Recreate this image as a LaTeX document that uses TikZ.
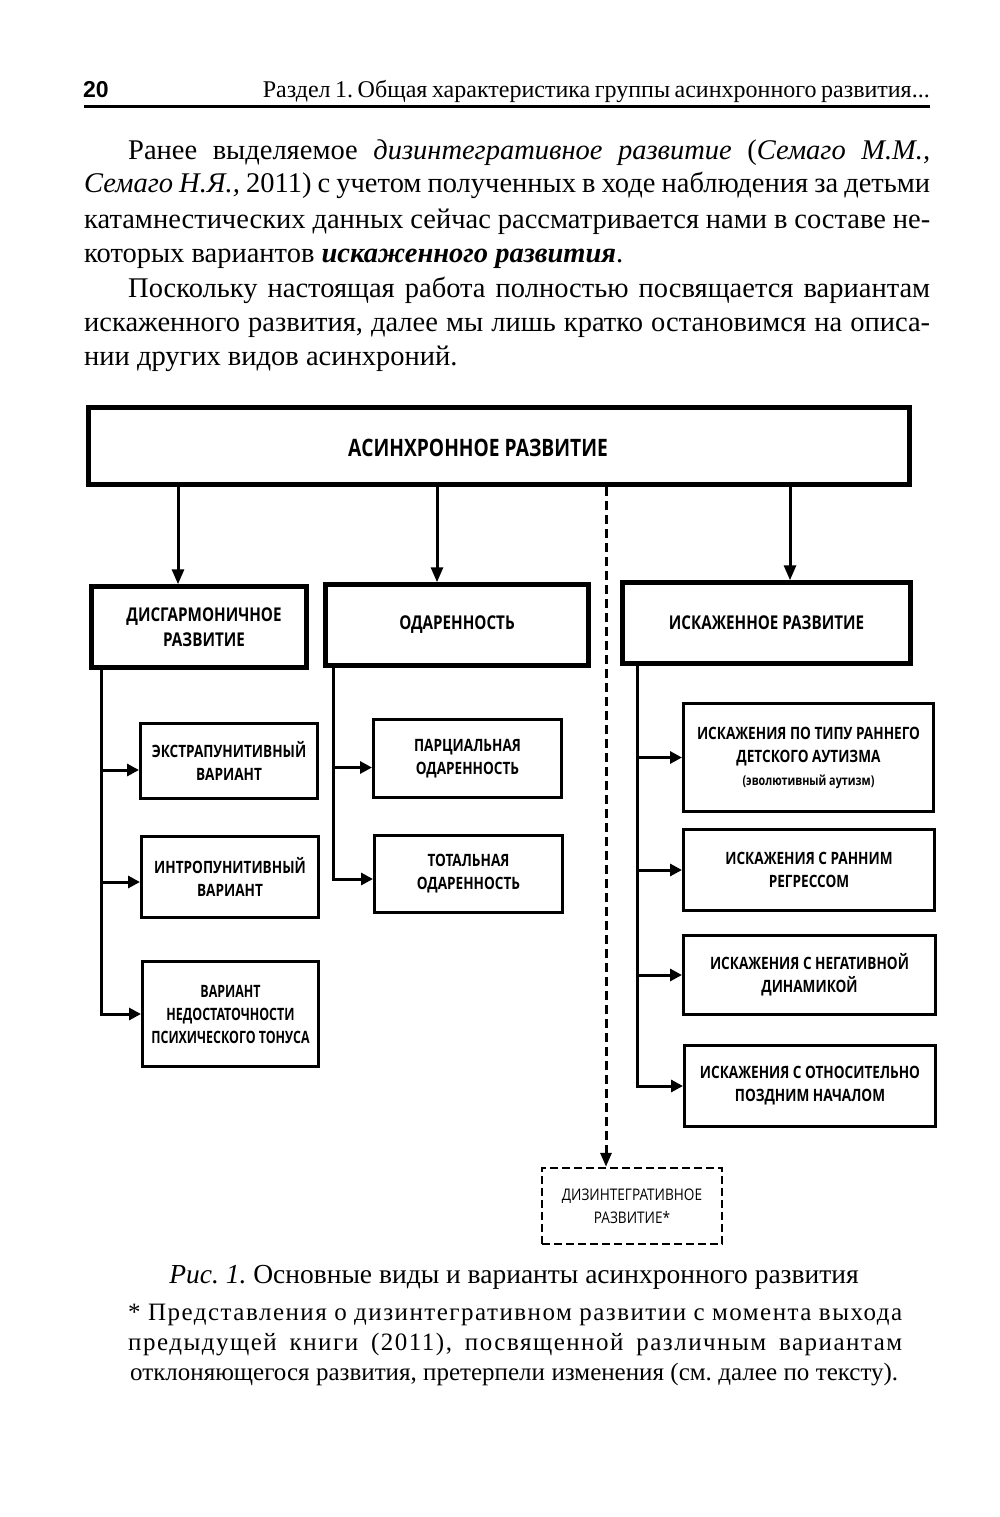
\documentclass[tikz,border=0pt]{standalone}
\usepackage{fontspec}
\setmainfont{Liberation Serif}
\newfontfamily\footfont[LetterSpace=6]{Liberation Serif}
\newfontfamily\boxfont[FakeStretch=0.8]{Open Sans}
\newfontfamily\boxfontc[FakeStretch=0.73]{Open Sans}
\newfontfamily\boxlight[FakeStretch=0.85]{Open Sans}
\newfontfamily\numfont{Liberation Sans}
\usetikzlibrary{arrows.meta}
\frenchspacing
\tikzset{
  lvlone/.style={draw, line width=5pt, inner sep=0pt},
  toptext/.style={inner sep=0pt, font=\boxfont\bfseries\fontsize{24}{28}\selectfont},
  lvltwo/.style={draw, line width=4.5pt, inner sep=0pt, align=center,
    font=\boxfont\bfseries\fontsize{19}{25}\selectfont},
  subbox/.style={draw, line width=3pt, inner sep=0pt, align=center,
    font=\boxfont\bfseries\fontsize{17}{23}\selectfont},
  dashbox/.style={draw, line width=2.5pt, dash pattern=on 8pt off 4pt, inner sep=0pt, align=center,
    font=\boxlight\fontsize{16}{23}\selectfont},
  conn/.style={line width=3pt},
  downarr/.style={line width=3pt, -{Triangle[length=15pt,width=12pt]}},
  sidearr/.style={line width=3pt, -{Triangle[length=12pt,width=12pt]}},
  dasharr/.style={line width=3pt, dash pattern=on 9pt off 5pt, -{Triangle[length=14pt,width=11pt]}},
  txt/.style={inner sep=0pt, anchor=base west},
}
\newcommand{\bodyfont}{\fontsize{28.5}{34}\selectfont}
\newcommand{\jline}[2]{\makebox[#1][s]{#2}}
\begin{document}
\begin{tikzpicture}[x=1pt,y=-1pt]
\useasboundingbox (0,0) rectangle (1000,1517);
\fill[white] (0,0) rectangle (1000,1517);

% header
\node[txt, font=\numfont\bfseries\fontsize{23}{26}\selectfont] (pagenum) at (83,98) {20};
\node[inner sep=0pt, anchor=base east, font=\fontsize{24}{26}\selectfont] (runhead) at (930,98)
  {\jline{667pt}{Раздел 1. Общая характеристика группы асинхронного развития...}};
\draw[line width=3pt] (84,107) -- (930,107);

% paragraphs
\node[txt, font=\bodyfont] (p1) at (128,160)
  {\jline{802pt}{Ранее выделяемое \textit{дизинтегративное развитие} (\textit{Семаго М.М.,}}};
\node[txt, font=\bodyfont] (p2) at (84,193)
  {\jline{846pt}{\textit{Семаго Н.Я.,} 2011) с учетом полученных в ходе наблюдения за детьми}};
\node[txt, font=\bodyfont] (p3) at (84,228)
  {\jline{846pt}{катамнестических данных сейчас рассматривается нами в составе не-}};
\node[txt, font=\bodyfont] (p4) at (84,262)
  {которых вариантов \textbf{\textit{искаженного развития}}.};
\node[txt, font=\bodyfont] (p5) at (128,297)
  {\jline{802pt}{Поскольку настоящая работа полностью посвящается вариантам}};
\node[txt, font=\bodyfont] (p6) at (84,331)
  {\jline{846pt}{искаженного развития, далее мы лишь кратко остановимся на описа-}};
\node[txt, font=\bodyfont] (p7) at (84,365)
  {нии других видов асинхроний.};

% diagram boxes
\node[lvlone, minimum width=821pt, minimum height=77pt] (top) at (499,446) {};
\node[toptext] (toplabel) at (478,448) {АСИНХРОННОЕ РАЗВИТИЕ};

\node[lvltwo, minimum width=215pt, minimum height=81pt] (dis) at (199,627) {\hspace*{10pt}ДИСГАРМОНИЧНОЕ\\\hspace*{10pt}РАЗВИТИЕ};
\node[lvltwo, minimum width=263pt, minimum height=81pt] (od) at (457,625) {ОДАРЕННОСТЬ};
\node[lvltwo, minimum width=288pt, minimum height=81pt] (isk) at (766.5,623) {ИСКАЖЕННОЕ РАЗВИТИЕ};

\node[subbox, minimum width=177pt, minimum height=75pt] (ex) at (229,761) {ЭКСТРАПУНИТИВНЫЙ\\ВАРИАНТ};
\node[subbox, minimum width=177pt, minimum height=81pt] (intr) at (230,877) {ИНТРОПУНИТИВНЫЙ\\ВАРИАНТ};
\node[subbox, minimum width=176pt, minimum height=105pt, font=\boxfontc\bfseries\fontsize{17}{23}\selectfont] (ned) at (230.5,1014) {ВАРИАНТ\\НЕДОСТАТОЧНОСТИ\\ПСИХИЧЕСКОГО ТОНУСА};

\node[subbox, minimum width=188pt, minimum height=78pt] (par) at (467.5,758.5) {ПАРЦИАЛЬНАЯ\\ОДАРЕННОСТЬ};
\node[subbox, minimum width=188pt, minimum height=77pt] (tot) at (468.5,874) {ТОТАЛЬНАЯ\\ОДАРЕННОСТЬ};

\node[subbox, minimum width=250pt, minimum height=108pt] (ra) at (808.5,757.5)
  {ИСКАЖЕНИЯ ПО ТИПУ РАННЕГО\\ДЕТСКОГО АУТИЗМА\\{\fontsize{13.5}{23}\selectfont (эволютивный аутизм)}};
\node[subbox, minimum width=251pt, minimum height=81pt] (rb) at (809,870) {ИСКАЖЕНИЯ С РАННИМ\\РЕГРЕССОМ};
\node[subbox, minimum width=252pt, minimum height=79pt] (rc) at (809.5,975) {ИСКАЖЕНИЯ С НЕГАТИВНОЙ\\ДИНАМИКОЙ};
\node[subbox, minimum width=251pt, minimum height=81pt] (rd) at (810,1086) {ИСКАЖЕНИЯ С ОТНОСИТЕЛЬНО\\ПОЗДНИМ НАЧАЛОМ};

\node[dashbox, minimum width=180pt, minimum height=76pt] (dz) at (632,1206) {ДИЗИНТЕГРАТИВНОЕ\\РАЗВИТИЕ*};

% helper x positions
\coordinate (xa) at (178,0);
\coordinate (xb) at (437,0);
\coordinate (xc) at (790,0);
\coordinate (xd) at (606,0);
\coordinate (ta) at (101,0);
\coordinate (tb) at (333,0);
\coordinate (tc) at (637,0);

% arrows from top
\draw[downarr] (top.south -| xa) -- (dis.north -| xa);
\draw[downarr] (top.south -| xb) -- (od.north -| xb);
\draw[downarr] (top.south -| xc) -- (isk.north -| xc);
\draw[dasharr] (top.south -| xd) -- (dz.north -| xd);

% trunks
\draw[conn] (dis.south -| ta) -- ([yshift=-1.5pt]ned.west -| ta);
\draw[sidearr] ([yshift=-9pt]ex.west -| ta) -- ([yshift=-9pt]ex.west);
\draw[sidearr] ([yshift=-5pt]intr.west -| ta) -- ([yshift=-5pt]intr.west);
\draw[sidearr] (ned.west -| ta) -- (ned.west);

\draw[conn] (od.south -| tb) -- ([yshift=-6.5pt]tot.west -| tb);
\draw[sidearr] ([yshift=-9pt]par.west -| tb) -- ([yshift=-9pt]par.west);
\draw[sidearr] ([yshift=-5pt]tot.west -| tb) -- ([yshift=-5pt]tot.west);

\draw[conn] (isk.south -| tc) -- ([yshift=-1.5pt]rd.west -| tc);
\draw[sidearr] (ra.west -| tc) -- (ra.west);
\draw[sidearr] (rb.west -| tc) -- (rb.west);
\draw[sidearr] (rc.west -| tc) -- (rc.west);
\draw[sidearr] (rd.west -| tc) -- (rd.west);

% caption and footnote
\node[inner sep=0pt, anchor=base, font=\fontsize{27.5}{32}\selectfont] (cap) at (514,1283)
  {\textit{Рис. 1.} Основные виды и варианты асинхронного развития};
\node[txt, font=\footfont\fontsize{25}{30}\selectfont] (f1) at (128,1320)
  {\jline{774pt}{* Представления о дизинтегративном развитии с момента выхода}};
\node[txt, font=\footfont\fontsize{25}{30}\selectfont] (f2) at (128,1350)
  {\jline{774pt}{предыдущей книги (2011), посвященной различным вариантам}};
\node[txt, font=\fontsize{25}{30}\selectfont] (f3) at (130,1380)
  {\jline{768pt}{отклоняющегося развития, претерпели изменения (см. далее по тексту).}};
\end{tikzpicture}
\end{document}
